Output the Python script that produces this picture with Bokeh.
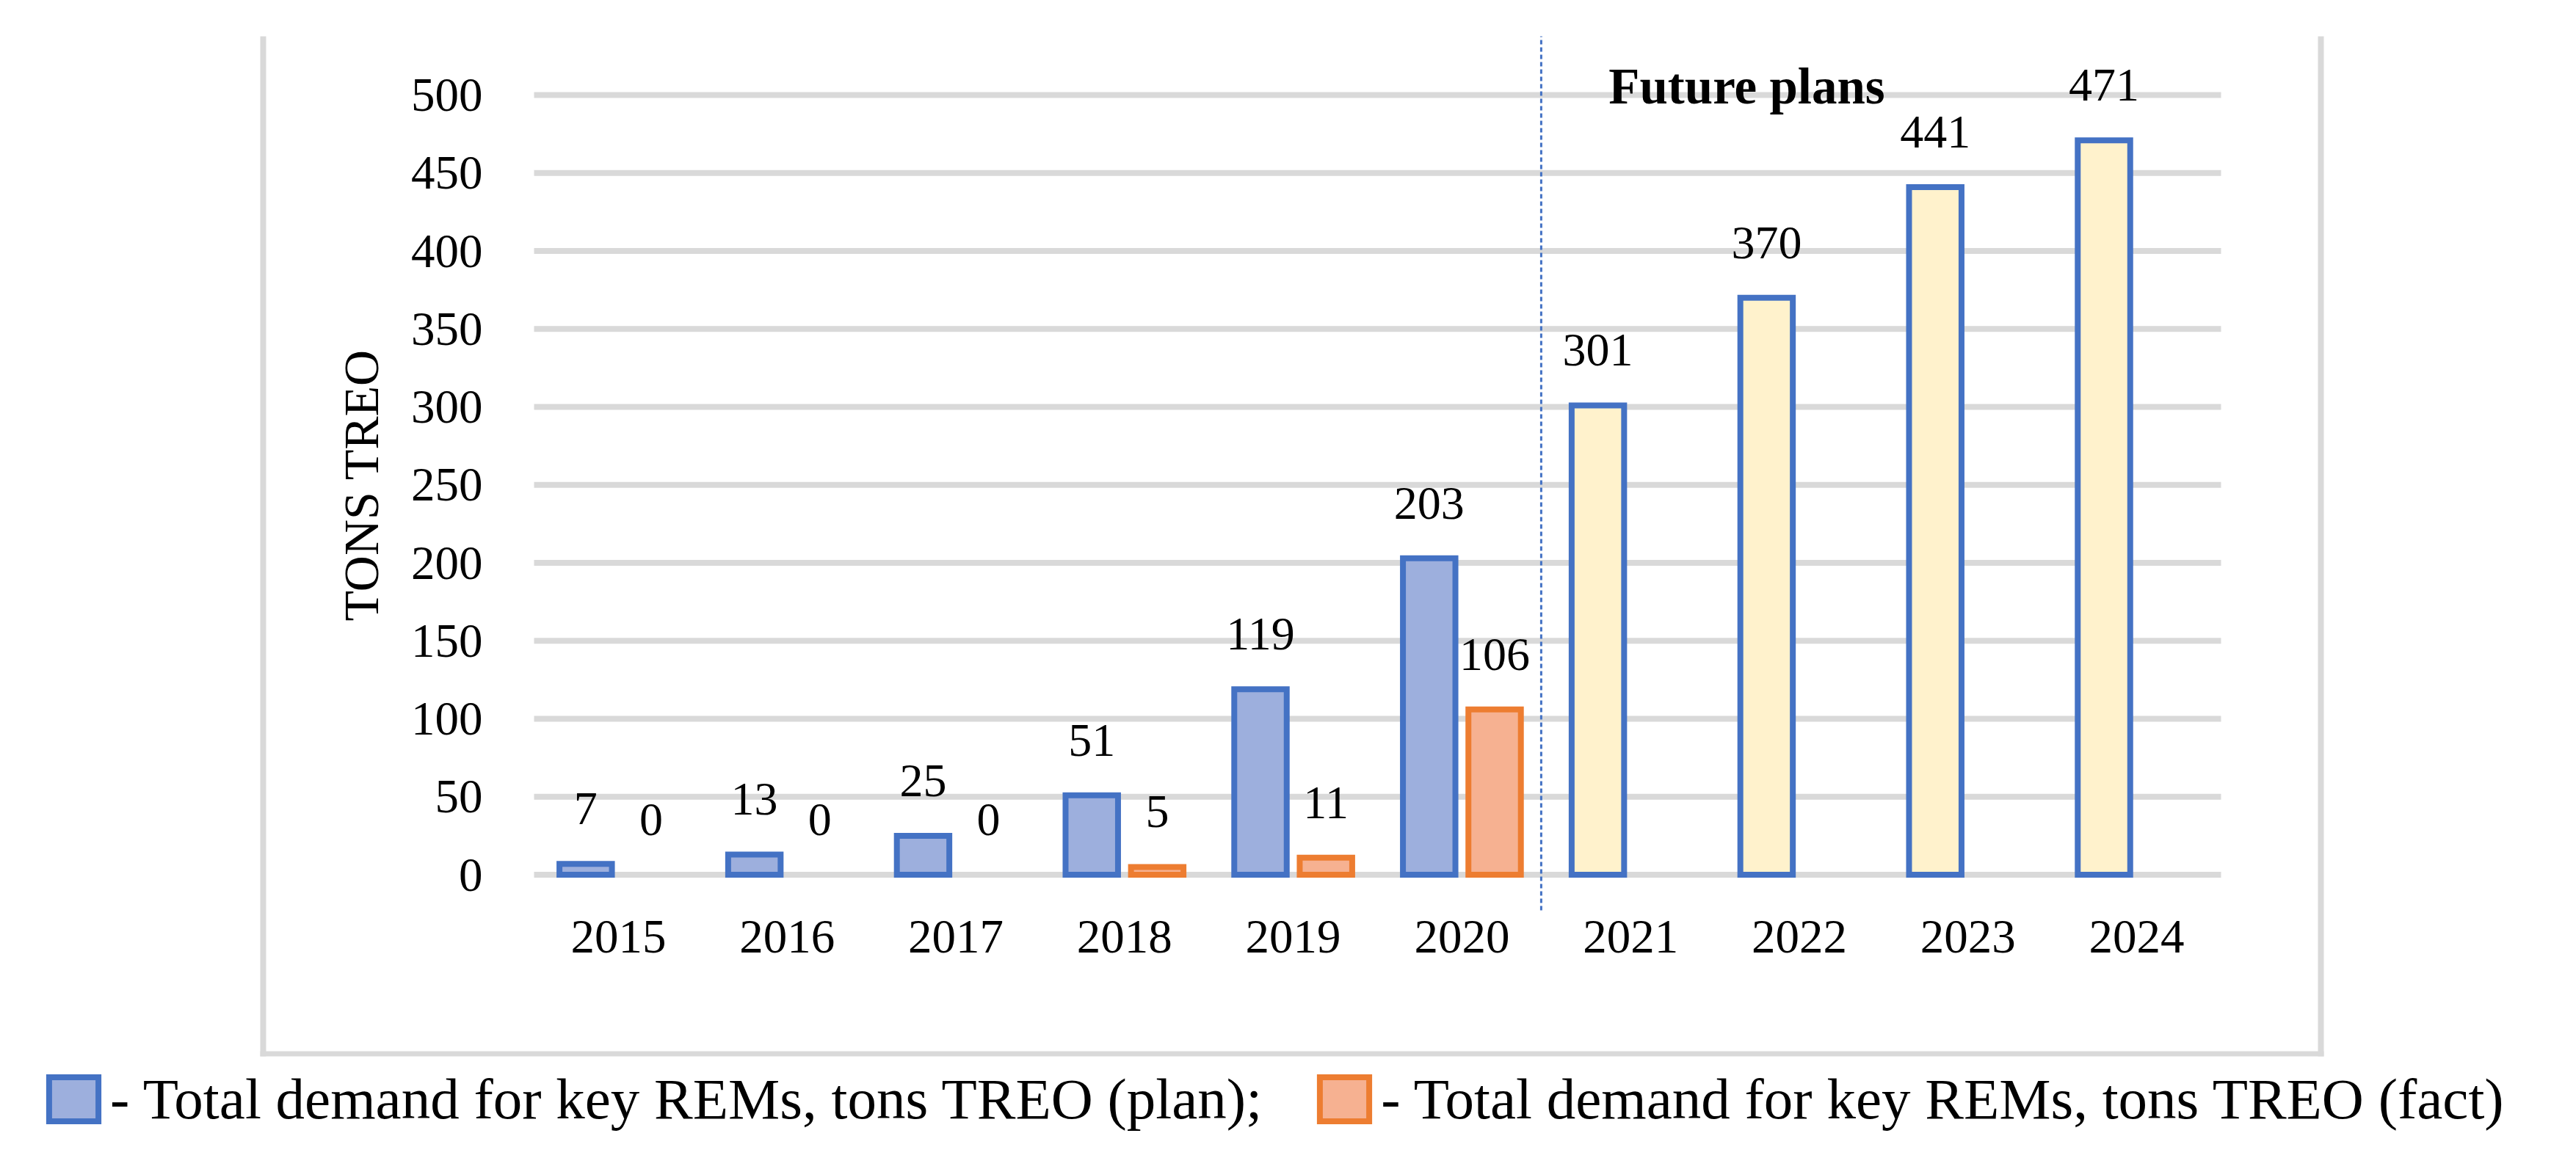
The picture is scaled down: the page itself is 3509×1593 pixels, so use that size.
from bokeh.plotting import figure
from bokeh.models import (ColumnDataSource, Range1d, FixedTicker, LabelSet, Label,
                          BoxAnnotation, Legend, LegendItem, CDSView, BooleanFilter)
from bokeh.transform import dodge
from bokeh.embed import file_html
from bokeh.resources import INLINE

# ---- data ----
years = ["2015", "2016", "2017", "2018", "2019", "2020", "2021", "2022", "2023", "2024"]
plan = [7, 13, 25, 51, 119, 203, 301, 370, 441, 471]
fact = [0, 0, 0, 5, 11, 106]          # fact known up to 2020
last_fact_year = "2020"
y_ticks = [0, 50, 100, 150, 200, 250, 300, 350, 400, 450, 500]
legend_labels = ["- Total demand for key REMs, tons TREO (plan);",
                 "- Total demand for key REMs, tons TREO (fact)"]
axis_title = "TONS TREO"
future_text = "Future plans"

# ---- layout / style ----
FONT = "Liberation Serif"
BLUE = "#4472C4"
ORANGE = "#ED7D31"
GRID = "#D9D9D9"
W, H = 3501, 1585
PLOT_LEFT_PX = 727      # left end of the gridlines
CAT_PX = 229.8          # width of one category slot
ZERO_PX = 1191.5        # pixel row of the value 0
UNIT_PX = 2.125         # pixels per ton

def dx(px):   # canvas x -> data x (category i centred on i)
    return (px - PLOT_LEFT_PX) / CAT_PX - 0.5

def dy(py):   # canvas y -> data y
    return (ZERO_PX - py) / UNIT_PX

p = figure(width=W, height=H,
           x_range=Range1d(dx(0), dx(W)), y_range=Range1d(dy(H), dy(0)),
           output_backend="svg", toolbar_location=None,
           min_border=0, min_border_left=0, min_border_right=0,
           min_border_top=0, min_border_bottom=0)
p.title.visible = False
p.outline_line_color = None
p.background_fill_color = "white"
p.border_fill_color = "white"
p.xgrid.visible = False
p.ygrid.visible = False

xs = list(range(len(years)))
AXIS_Y = dy(1240)
TOP_Y = dy(49)

# axes
for ax in (p.xaxis, p.yaxis):
    ax.axis_line_color = None
    ax.major_tick_line_color = None
    ax.minor_tick_line_color = None
    ax.major_label_text_font = FONT
    ax.major_label_text_font_size = "65px"
    ax.major_label_text_color = "black"
p.xaxis.ticker = FixedTicker(ticks=xs)
p.xaxis.major_label_overrides = {i: y for i, y in zip(xs, years)}
p.xaxis.fixed_location = AXIS_Y
p.xaxis.bounds = (-0.5, len(years) - 0.5)
p.xaxis.major_label_standoff = 8
p.yaxis.ticker = FixedTicker(ticks=y_ticks)
p.yaxis.fixed_location = -0.5
p.yaxis.bounds = (y_ticks[0], y_ticks[-1])
p.yaxis.major_label_standoff = 64
p.yaxis.axis_label = axis_title
p.yaxis.axis_label_text_font = FONT
p.yaxis.axis_label_text_font_size = "68px"
p.yaxis.axis_label_text_font_style = "normal"
p.yaxis.axis_label_text_color = "black"
p.yaxis.axis_label_standoff = 27

# gridlines at the value ticks, across the category slots
grid = p.segment(x0=-0.5, x1=len(years) - 0.5, y0=y_ticks, y1=y_ticks,
                 line_color=GRID, line_width=8)
grid.level = "underlay"

OFF = 0.194
BW = 0.311
n_fact = len(fact)
plan_fill = ["#FFF2CC" if y > last_fact_year else "#9DAFDD" for y in years]
plan_src = ColumnDataSource(dict(x=xs, value=plan,
                                 label=[str(v) for v in plan], fill=plan_fill))
fact_src = ColumnDataSource(dict(x=xs[:n_fact], value=fact,
                                 label=[str(v) for v in fact]))

plan_r = p.vbar(x=dodge("x", -OFF), top="value", bottom=0, width=BW,
                source=plan_src, fill_color="fill", line_color=BLUE, line_width=8,
                line_join="miter")
fact_view = CDSView(filter=BooleanFilter([v > 0 for v in fact]))
fact_r = p.vbar(x=dodge("x", OFF), top="value", bottom=0, width=BW,
                source=fact_src, view=fact_view, fill_color="#F6B191", line_color=ORANGE,
                line_width=8, line_join="miter")

label_kw = dict(text_align="center", text_baseline="alphabetic", text_font=FONT,
                text_font_size="64px", text_color="black", y_offset=54)
p.add_layout(LabelSet(x=dodge("x", -OFF), y="value", text="label",
                      source=plan_src, **label_kw))
p.add_layout(LabelSet(x=dodge("x", OFF), y="value", text="label",
                      source=fact_src, **label_kw))

# divider between actual and planned years
div_x = years.index(last_fact_year) + 0.5 - 0.03
p.segment(x0=div_x, x1=div_x, y0=AXIS_Y, y1=TOP_Y, line_color=BLUE,
          line_width=3, line_dash="6 4")
p.add_layout(Label(x=div_x + 0.4, y=dy(117), text=future_text, text_font=FONT,
                   text_font_size="69px", text_font_style="bold", text_color="black",
                   text_align="left", text_baseline="alphabetic"))

# chart-area border (left, right, bottom)
def strip(l, r, t, b):
    return BoxAnnotation(left=dx(l), right=dx(r), top=dy(t), bottom=dy(b),
                         fill_color=GRID, fill_alpha=1, line_alpha=0, level="underlay")
p.add_layout(strip(354, 362, 49, 1439))
p.add_layout(strip(3157, 3165, 49, 1439))
p.add_layout(strip(354, 3165, 1432, 1439))

legend = Legend(items=[LegendItem(label=legend_labels[0], renderers=[plan_r], index=0),
                       LegendItem(label=legend_labels[1], renderers=[fact_r])],
                orientation="horizontal", location=(58, H - 1549),
                glyph_width=84, glyph_height=75, label_standoff=8, spacing=70,
                padding=0, margin=0, border_line_alpha=0, background_fill_alpha=0,
                label_text_font=FONT, label_text_font_size="79px", label_height=103,
                label_text_color="black")
p.add_layout(legend, "center")

open("out.html", "w").write(file_html(p, INLINE))
